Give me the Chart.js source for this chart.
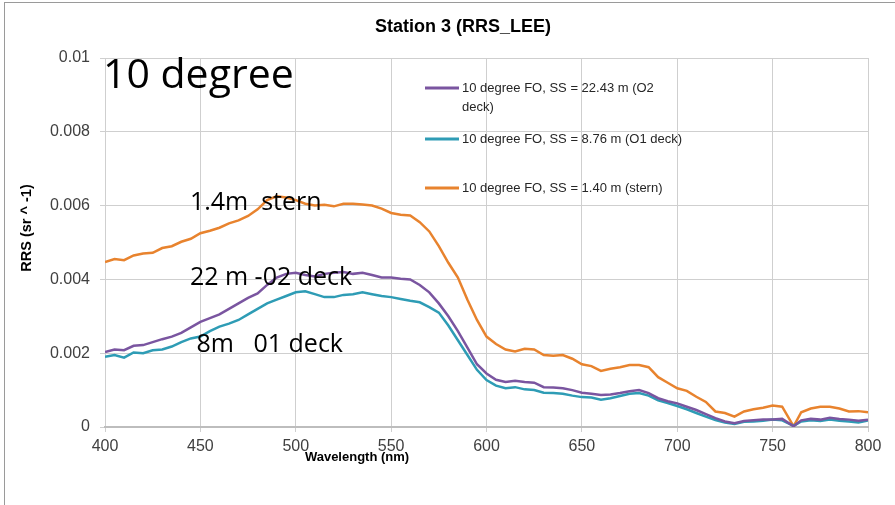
<!DOCTYPE html>
<html>
<head>
<meta charset="utf-8">
<script src="https://cdn.jsdelivr.net/npm/chart.js@4.4.1/dist/chart.umd.min.js"></script>
<style>
  html, body { margin: 0; padding: 0; background: #fff; }
  #wrap { position: relative; width: 895px; height: 505px; overflow: hidden; }
  #frame { position: absolute; left: 4px; top: 2px; width: 1000px; height: 1000px; border: 1px solid #9a9a9a; }
  canvas { position: absolute; left: 0; top: 0; }
</style>
</head>
<body>
<div id="wrap">
  <div id="frame"></div>
  <canvas id="rrsChart" width="895" height="505"></canvas>
</div>
<script>
// wavelengths (nm)
const wavelength = [
  400, 405, 410, 415, 420, 425, 430, 435, 440, 445,
  450, 455, 460, 465, 470, 475, 480, 485, 490, 495,
  500, 505, 510, 515, 520, 525, 530, 535, 540, 545,
  550, 555, 560, 565, 570, 575, 580, 585, 590, 595,
  600, 605, 610, 615, 620, 625, 630, 635, 640, 645,
  650, 655, 660, 665, 670, 675, 680, 685, 690, 695,
  700, 705, 710, 715, 720, 725, 730, 735, 740, 745,
  750, 755, 761, 765, 770, 775, 780, 785, 790, 795, 800
];

// 10 degree FO, SS = 22.43 m (O2 deck)
const rrsO2 = [
  0.00203, 0.00210, 0.00208, 0.00220, 0.00222, 0.00230, 0.00238, 0.00245, 0.00255, 0.00270,
  0.00285, 0.00295, 0.00305, 0.00320, 0.00335, 0.00350, 0.00362, 0.00385, 0.00405, 0.00415,
  0.00418, 0.00412, 0.00408, 0.00415, 0.00418, 0.00420, 0.00415, 0.00418, 0.00412, 0.00405,
  0.00405, 0.00402, 0.00400, 0.00385, 0.00365, 0.00335, 0.00300, 0.00260, 0.00215, 0.00170,
  0.00145, 0.00128, 0.00122, 0.00125, 0.00122, 0.00120, 0.00108, 0.00107, 0.00105, 0.00100,
  0.00093, 0.00090, 0.00087, 0.00088, 0.00092, 0.00097, 0.00100, 0.00092, 0.00078, 0.00070,
  0.00064, 0.00055, 0.00046, 0.00035, 0.00024, 0.00015, 0.00010, 0.00016, 0.00018, 0.00020,
  0.00020, 0.00022, 0.00002, 0.00018, 0.00022, 0.00020, 0.00025, 0.00022, 0.00020, 0.00017, 0.00020
];

// 10 degree FO, SS = 8.76 m (O1 deck)
const rrsO1 = [
  0.00190, 0.00195, 0.00188, 0.00202, 0.00200, 0.00208, 0.00210, 0.00218, 0.00230, 0.00240,
  0.00245, 0.00260, 0.00272, 0.00280, 0.00290, 0.00305, 0.00320, 0.00335, 0.00345, 0.00355,
  0.00365, 0.00368, 0.00360, 0.00352, 0.00352, 0.00358, 0.00360, 0.00365, 0.00360, 0.00355,
  0.00352, 0.00347, 0.00342, 0.00338, 0.00325, 0.00310, 0.00275, 0.00235, 0.00195, 0.00155,
  0.00127, 0.00112, 0.00105, 0.00108, 0.00102, 0.00100, 0.00093, 0.00092, 0.00090, 0.00085,
  0.00081, 0.00080, 0.00074, 0.00078, 0.00084, 0.00090, 0.00092, 0.00085, 0.00072, 0.00065,
  0.00057, 0.00048, 0.00038, 0.00028, 0.00019, 0.00012, 0.00008, 0.00014, 0.00015, 0.00017,
  0.00020, 0.00018, 0.00003, 0.00015, 0.00018, 0.00016, 0.00020, 0.00017, 0.00015, 0.00012, 0.00018
];

// 10 degree FO, SS = 1.40 m (stern)
const rrsStern = [
  0.00447, 0.00455, 0.00452, 0.00465, 0.00470, 0.00472, 0.00485, 0.00490, 0.00502, 0.00510,
  0.00525, 0.00532, 0.00540, 0.00552, 0.00560, 0.00572, 0.00590, 0.00615, 0.00625, 0.00622,
  0.00615, 0.00605, 0.00600, 0.00602, 0.00598, 0.00605, 0.00605, 0.00603, 0.00600, 0.00592,
  0.00580, 0.00575, 0.00573, 0.00555, 0.00530, 0.00490, 0.00445, 0.00405, 0.00345, 0.00290,
  0.00245, 0.00225, 0.00210, 0.00205, 0.00212, 0.00210, 0.00195, 0.00193, 0.00195, 0.00185,
  0.00170, 0.00165, 0.00152, 0.00158, 0.00162, 0.00168, 0.00168, 0.00162, 0.00135, 0.00120,
  0.00105, 0.00098, 0.00082, 0.00068, 0.00042, 0.00038, 0.00028, 0.00042, 0.00048, 0.00052,
  0.00058, 0.00055, 0.00002, 0.00040, 0.00050, 0.00055, 0.00055, 0.00050, 0.00042, 0.00043, 0.00040
];

const seriesLabels = [
  "10 degree FO, SS = 22.43 m (O2 deck)",
  "10 degree FO, SS = 8.76 m (O1 deck)",
  "10 degree FO, SS = 1.40 m (stern)"
];
const seriesColors = ["#7a55a0", "#2e9cb5", "#e8832e"];

const xTicks = [400, 450, 500, 550, 600, 650, 700, 750, 800];
const yTicks = [0, 0.002, 0.004, 0.006, 0.008, 0.01];

const toPoints = vals => wavelength.map((w, i) => ({ x: w, y: vals[i] }));

const FONT = "'Liberation Sans', Arial, sans-serif";

// legend drawn inside the plot, the way the spreadsheet put it
const legendRows = [
  { lines: ["10 degree FO, SS = 22.43 m (O2", "deck)"], dy: 30 },
  { lines: ["10 degree FO, SS = 8.76 m (O1 deck)"], dy: 81 },
  { lines: ["10 degree FO, SS = 1.40 m (stern)"], dy: 130 }
];

const notes = [
  { text: "1.4m  stern", x: 444.5, y: 0.00588 },
  { text: "22 m -02 deck", x: 444.5, y: 0.00385 },
  { text: "8m   01 deck", x: 448, y: 0.00203 }
];

const overlay = {
  id: "overlay",
  afterDatasetsDraw(c) {
    const { ctx, chartArea, scales } = c;
    ctx.save();

    // legend
    ctx.font = "13px " + FONT;
    ctx.textBaseline = "middle";
    ctx.textAlign = "left";
    legendRows.forEach((row, i) => {
      const y = chartArea.top + row.dy;
      ctx.strokeStyle = seriesColors[i];
      ctx.lineWidth = 3;
      ctx.beginPath();
      ctx.moveTo(chartArea.left + 320, y);
      ctx.lineTo(chartArea.left + 354, y);
      ctx.stroke();
      ctx.fillStyle = "#262626";
      row.lines.forEach((t, k) => ctx.fillText(t, chartArea.left + 357, y + k * 19));
    });

    // big label
    ctx.fillStyle = "#000";
    ctx.textBaseline = "alphabetic";
    ctx.font = "41px 'Open Sans', sans-serif";
    ctx.fillText("10 degree", chartArea.left - 2, chartArea.top + 30);

    // curve labels
    ctx.font = "25px 'Open Sans', sans-serif";
    notes.forEach(n => {
      ctx.fillText(n.text, scales.x.getPixelForValue(n.x), scales.y.getPixelForValue(n.y));
    });

    // titles (off-centre in the original, so drawn by hand)
    ctx.textAlign = "center";
    ctx.textBaseline = "middle";
    ctx.font = "bold 18px " + FONT;
    ctx.fillText("Station 3 (RRS_LEE)", 463, 27);

    ctx.font = "bold 13px " + FONT;
    ctx.fillText("Wavelength (nm)", chartArea.left + 252, chartArea.bottom + 30);

    ctx.translate(27, 228);
    ctx.rotate(-Math.PI / 2);
    ctx.font = "bold 14.5px " + FONT;
    ctx.fillText("RRS (sr ^ -1)", 0, 0);
    ctx.restore();
  }
};

new Chart(document.getElementById("rrsChart"), {
  type: "line",
  data: {
    datasets: [rrsO2, rrsO1, rrsStern].map((vals, i) => ({
      label: seriesLabels[i],
      data: toPoints(vals),
      borderColor: seriesColors[i],
      backgroundColor: seriesColors[i],
      borderWidth: 2.5,
      pointRadius: 0,
      tension: 0,
      fill: false
    }))
  },
  options: {
    responsive: false,
    animation: false,
    layout: { padding: { left: 10, right: 27, top: 58, bottom: 0 } },
    plugins: {
      legend: { display: false },
      tooltip: { enabled: false },
      title: { display: false }
    },
    scales: {
      x: {
        type: "linear",
        min: 400,
        max: 800,
        afterBuildTicks: s => { s.ticks = xTicks.map(v => ({ value: v })); },
        afterFit: s => { s.height = 78; },
        ticks: {
          color: "#404040",
          padding: 5,
          maxRotation: 0,
          font: { family: FONT, size: 16 }
        },
        grid: { color: "#cfcfcf", tickLength: 5, lineWidth: 1 },
        border: { color: "#bdbdbd", width: 2 }
      },
      y: {
        min: 0,
        max: 0.01,
        afterBuildTicks: s => { s.ticks = yTicks.map(v => ({ value: v })); },
        afterFit: s => { s.width = 95; },
        ticks: {
          color: "#404040",
          padding: 10,
          font: { family: FONT, size: 16 },
          callback: v => String(+v.toFixed(3))
        },
        grid: { color: "#cfcfcf", tickLength: 5, lineWidth: 1 },
        border: { display: false }
      }
    }
  },
  plugins: [overlay]
});
</script>
</body>
</html>
